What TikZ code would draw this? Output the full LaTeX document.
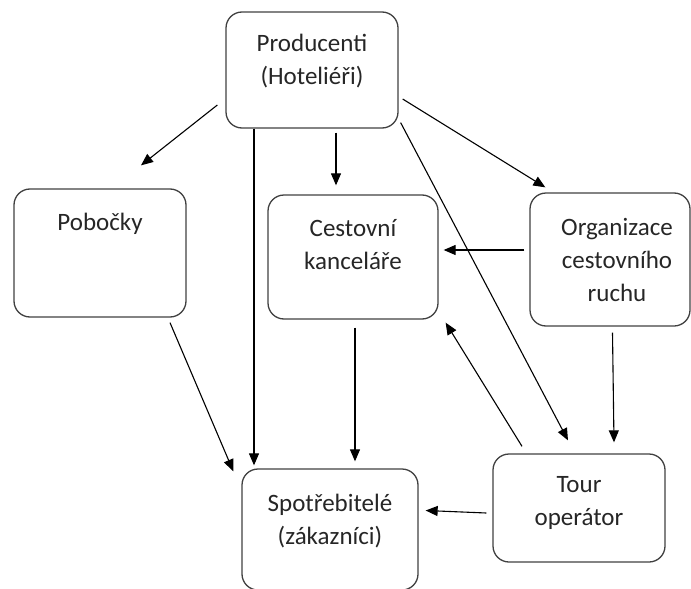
\documentclass[tikz,border=0pt]{standalone}
\usepackage{fontspec}
\setmainfont{Carlito}
\usetikzlibrary{arrows.meta}

\tikzset{
    box/.style={draw=black!75, line width=1.3pt, rounded corners=16pt, minimum width=#1, inner sep=0pt},
    boxtext/.style={anchor=north, align=center, inner sep=0pt, text=black!85, font=\fontsize{25}{33}\selectfont},
    arr/.style={-{Triangle[length=12pt,width=10pt]}, line width=1.1pt}
}

\begin{document}
\begin{tikzpicture}[x=1pt,y=-1pt]
        \useasboundingbox (0,0) rectangle (691,589);
        % boxes
        \node[box=172pt, minimum height=116pt] (prod) at (312,70) {};
        \node[box=172pt, minimum height=128pt] (pob) at (100,253) {};
        \node[box=170pt, minimum height=124pt] (ck) at (353,257) {};
        \node[box=160pt, minimum height=133pt] (org) at (610,259.5) {};
        \node[box=176pt, minimum height=121pt] (spo) at (330,529.5) {};
        \node[box=172pt, minimum height=108pt] (tour) at (579,508) {};
        % texts
        \node[boxtext, yshift=-23pt] (prodtext) at (prod.north) {Producenti\\(Hoteliéři)};
        \node[boxtext, yshift=-25pt] (pobtext) at (pob.north) {Pobočky};
        \node[boxtext, yshift=-25pt] (cktext) at (ck.north) {Cestovní\\kanceláře};
        \node[boxtext, yshift=-26pt, xshift=7pt] (orgtext) at (org.north) {Organizace\\cestovního\\ruchu};
        \node[boxtext, yshift=-26pt] (spotext) at (spo.north) {Spotřebitelé\\(zákazníci)};
        \node[boxtext, yshift=-23pt] (tourtext) at (tour.north) {Tour\\operátor};
        % arrows
        \draw[arr] ([shift={(-8,35)}]prod.west) -- ([shift={(41,-23)}]pob.north);
        \draw[arr] ([shift={(-58,0)}]prod.south) -- ([shift={(-76,-3)}]spo.north);
        \draw[arr] ([shift={(24,4)}]prod.south) -- ([shift={(-17,-9)}]ck.north);
        \draw[arr] ([shift={(4,29)}]prod.east) -- ([shift={(16,-5)}]org.north west);
        \draw[arr] ([shift={(2,-6)}]prod.south east) -- ([shift={(-11,-13)}]tour.north);
        \draw[arr] ([shift={(-5,-9.5)}]org.west) -- ([shift={(5,-7)}]ck.east);
        \draw[arr] ([shift={(2.5,6)}]org.south) -- ([shift={(35,-11)}]tour.north);
        \draw[arr] ([shift={(2,8)}]ck.south) -- ([shift={(25,-7)}]spo.north);
        \draw[arr] ([shift={(70,5)}]pob.south) -- ([shift={(-8,3)}]spo.north west);
        \draw[arr] ([shift={(-57,-7)}]tour.north) -- ([shift={(7,3)}]ck.south east);
        \draw[arr] ([shift={(-6,5)}]tour.west) -- ([shift={(7,-19)}]spo.east);
    \end{tikzpicture}
\end{document}
